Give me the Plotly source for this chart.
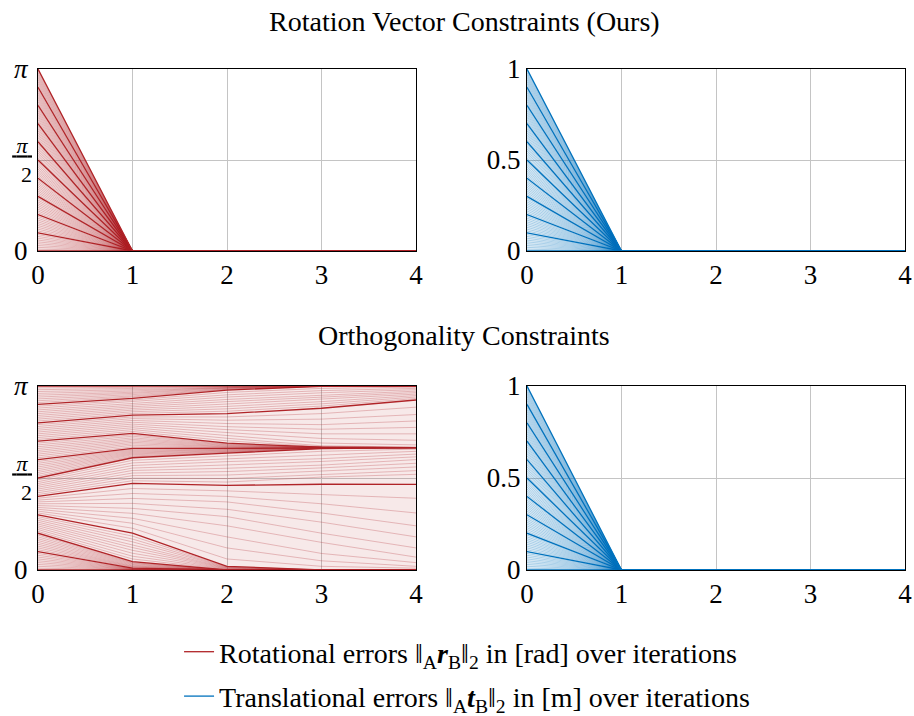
import math
import plotly.graph_objects as go

# Iteration index shared by every panel
iterations = [0, 1, 2, 3, 4]

# Initial rotation errors, in multiples of pi (one line per start value)
start_frac = [
    0.00, 0.01, 0.02, 0.03, 0.04, 0.05, 0.06, 0.07, 0.08, 0.09,
    0.10, 0.11, 0.12, 0.13, 0.14, 0.15, 0.16, 0.17, 0.18, 0.19,
    0.20, 0.21, 0.22, 0.23, 0.24, 0.25, 0.26, 0.27, 0.28, 0.29,
    0.30, 0.31, 0.32, 0.33, 0.34, 0.35, 0.36, 0.37, 0.38, 0.39,
    0.40, 0.41, 0.42, 0.43, 0.44, 0.45, 0.46, 0.47, 0.48, 0.49,
    0.50, 0.51, 0.52, 0.53, 0.54, 0.55, 0.56, 0.57, 0.58, 0.59,
    0.60, 0.61, 0.62, 0.63, 0.64, 0.65, 0.66, 0.67, 0.68, 0.69,
    0.70, 0.71, 0.72, 0.73, 0.74, 0.75, 0.76, 0.77, 0.78, 0.79,
    0.80, 0.81, 0.82, 0.83, 0.84, 0.85, 0.86, 0.87, 0.88, 0.89,
    0.90, 0.91, 0.92, 0.93, 0.94, 0.95, 0.96, 0.97, 0.98, 0.99,
    1.00,
]

# Initial translation errors in metres
trans_start = [
    0.00, 0.01, 0.02, 0.03, 0.04, 0.05, 0.06, 0.07, 0.08, 0.09,
    0.10, 0.11, 0.12, 0.13, 0.14, 0.15, 0.16, 0.17, 0.18, 0.19,
    0.20, 0.21, 0.22, 0.23, 0.24, 0.25, 0.26, 0.27, 0.28, 0.29,
    0.30, 0.31, 0.32, 0.33, 0.34, 0.35, 0.36, 0.37, 0.38, 0.39,
    0.40, 0.41, 0.42, 0.43, 0.44, 0.45, 0.46, 0.47, 0.48, 0.49,
    0.50, 0.51, 0.52, 0.53, 0.54, 0.55, 0.56, 0.57, 0.58, 0.59,
    0.60, 0.61, 0.62, 0.63, 0.64, 0.65, 0.66, 0.67, 0.68, 0.69,
    0.70, 0.71, 0.72, 0.73, 0.74, 0.75, 0.76, 0.77, 0.78, 0.79,
    0.80, 0.81, 0.82, 0.83, 0.84, 0.85, 0.86, 0.87, 0.88, 0.89,
    0.90, 0.91, 0.92, 0.93, 0.94, 0.95, 0.96, 0.97, 0.98, 0.99,
    1.00,
]

# Rotation vector constraints: every start converges after one iteration
rotvec_after = [0.0, 0.0, 0.0, 0.0]
trans_after = [0.0, 0.0, 0.0, 0.0]

# Orthogonality constraints: rotation error (multiples of pi) at iterations 1..4
ortho_it1 = [
    0.000, 0.001, 0.002, 0.003, 0.004, 0.005, 0.006, 0.007, 0.008, 0.009,
    0.010, 0.013, 0.016, 0.019, 0.022, 0.026, 0.030, 0.034, 0.038, 0.041,
    0.045, 0.060, 0.075, 0.091, 0.107, 0.122, 0.137, 0.153, 0.168, 0.184,
    0.200, 0.227, 0.254, 0.281, 0.308, 0.335, 0.362, 0.389, 0.416, 0.443,
    0.471, 0.485, 0.499, 0.513, 0.527, 0.541, 0.554, 0.568, 0.582, 0.596,
    0.610, 0.615, 0.620, 0.626, 0.631, 0.636, 0.641, 0.646, 0.651, 0.656,
    0.661, 0.669, 0.678, 0.686, 0.694, 0.702, 0.710, 0.718, 0.727, 0.735,
    0.743, 0.753, 0.763, 0.773, 0.783, 0.793, 0.803, 0.813, 0.823, 0.832,
    0.842, 0.851, 0.860, 0.869, 0.878, 0.887, 0.896, 0.905, 0.914, 0.924,
    0.933, 0.940, 0.946, 0.953, 0.960, 0.966, 0.973, 0.980, 0.987, 0.993,
    1.000,
]
ortho_it2 = [
    0.000, 0.000, 0.000, 0.000, 0.000, 0.000, 0.000, 0.000, 0.000, 0.000,
    0.000, 0.000, 0.000, 0.000, 0.000, 0.000, 0.000, 0.000, 0.000, 0.000,
    0.000, 0.002, 0.004, 0.006, 0.008, 0.010, 0.012, 0.014, 0.016, 0.018,
    0.020, 0.060, 0.120, 0.180, 0.240, 0.290, 0.330, 0.370, 0.400, 0.430,
    0.460, 0.478, 0.497, 0.516, 0.535, 0.553, 0.571, 0.589, 0.604, 0.620,
    0.635, 0.638, 0.640, 0.643, 0.645, 0.648, 0.651, 0.653, 0.656, 0.658,
    0.661, 0.664, 0.666, 0.669, 0.671, 0.674, 0.677, 0.680, 0.683, 0.686,
    0.689, 0.702, 0.716, 0.731, 0.747, 0.763, 0.779, 0.796, 0.814, 0.832,
    0.850, 0.863, 0.876, 0.889, 0.902, 0.915, 0.927, 0.940, 0.952, 0.965,
    0.978, 0.980, 0.982, 0.984, 0.987, 0.989, 0.991, 0.993, 0.996, 0.998,
    1.000,
]
ortho_it3 = [
    0.000, 0.000, 0.000, 0.000, 0.000, 0.000, 0.000, 0.000, 0.000, 0.000,
    0.000, 0.000, 0.000, 0.000, 0.000, 0.000, 0.000, 0.000, 0.000, 0.000,
    0.000, 0.000, 0.000, 0.000, 0.000, 0.000, 0.000, 0.000, 0.000, 0.000,
    0.000, 0.020, 0.050, 0.090, 0.150, 0.200, 0.260, 0.310, 0.360, 0.410,
    0.466, 0.505, 0.520, 0.540, 0.555, 0.570, 0.590, 0.605, 0.625, 0.645,
    0.660, 0.661, 0.662, 0.662, 0.663, 0.663, 0.664, 0.664, 0.664, 0.665,
    0.665, 0.665, 0.665, 0.666, 0.666, 0.666, 0.667, 0.667, 0.667, 0.668,
    0.668, 0.670, 0.675, 0.690, 0.715, 0.740, 0.765, 0.790, 0.820, 0.850,
    0.879, 0.891, 0.903, 0.915, 0.927, 0.939, 0.951, 0.963, 0.975, 0.987,
    0.998, 0.999, 0.999, 0.999, 1.000, 1.000, 1.000, 1.000, 1.000, 1.000,
    1.000,
]
ortho_it4 = [
    0.000, 0.000, 0.000, 0.000, 0.000, 0.000, 0.000, 0.000, 0.000, 0.000,
    0.000, 0.000, 0.000, 0.000, 0.000, 0.000, 0.000, 0.000, 0.000, 0.000,
    0.000, 0.000, 0.000, 0.000, 0.000, 0.000, 0.000, 0.000, 0.000, 0.000,
    0.000, 0.010, 0.020, 0.040, 0.070, 0.120, 0.180, 0.240, 0.310, 0.390,
    0.465, 0.520, 0.540, 0.560, 0.580, 0.600, 0.615, 0.630, 0.645, 0.657,
    0.665, 0.665, 0.665, 0.665, 0.665, 0.665, 0.665, 0.665, 0.665, 0.665,
    0.665, 0.665, 0.665, 0.665, 0.665, 0.665, 0.665, 0.665, 0.665, 0.665,
    0.665, 0.666, 0.668, 0.680, 0.705, 0.740, 0.775, 0.810, 0.845, 0.885,
    0.924, 0.932, 0.940, 0.948, 0.956, 0.964, 0.972, 0.980, 0.987, 0.994,
    1.000, 1.000, 1.000, 1.000, 1.000, 1.000, 1.000, 1.000, 1.000, 1.000,
    1.000,
]

# Orthogonality constraints: translation errors behave like the rotation-vector case
ortho_trans_after = [0.0, 0.0, 0.0, 0.0]

x_ticks = [0, 1, 2, 3, 4]
rot_tick_text = ["0", "", "<i>π</i>"]
half_pi_text = "<u>\u2009<i>π</i>\u2009</u><br>2"
trans_ticks = [0, 0.5, 1]
trans_tick_text = ["0", "0.5", "1"]

panel_titles = ["Rotation Vector Constraints (Ours)", "Orthogonality Constraints"]
legend_rot = "Rotational errors ‖<sub>A</sub><b><i>r</i></b><sub>B</sub>‖<sub>2</sub> in [rad] over iterations"
legend_trans = "Translational errors ‖<sub>A</sub><b><i>t</i></b><sub>B</sub>‖<sub>2</sub> in [m] over iterations"

RED = (176, 36, 40)
BLUE = (0, 114, 189)
FONT = "Liberation Serif"

PI = math.pi


def rgba(c, a):
    return f"rgba({c[0]},{c[1]},{c[2]},{a})"


def rgb_str(c):
    return f"rgb({c[0]},{c[1]},{c[2]})"


def add_bundle(fig, lines, color, xa, ya, legend_name=None, group=None):
    """One trace per start value; every tenth line is emphasised."""
    for i, ys in enumerate(lines):
        dark = i % 10 == 0
        fig.add_trace(go.Scatter(
            x=iterations, y=ys, mode="lines", xaxis=xa, yaxis=ya,
            line=dict(color=rgb_str(color) if dark else rgba(color, 0.38),
                      width=1.3 if dark else 0.7),
            fill="none" if i == 0 else "tonexty",
            fillcolor=rgba(color, 0.10),
            name=legend_name if legend_name else "",
            legendgroup=group,
            showlegend=bool(legend_name) and i == 0,
            hoverinfo="skip",
        ))


rot_ours = [[v * PI] + [a * PI for a in rotvec_after] for v in start_frac]
trans_ours = [[v] + list(trans_after) for v in trans_start]
rot_ortho = [
    [start_frac[i] * PI, ortho_it1[i] * PI, ortho_it2[i] * PI, ortho_it3[i] * PI, ortho_it4[i] * PI]
    for i in range(len(start_frac))
]
trans_ortho = [[v] + list(ortho_trans_after) for v in trans_start]

fig = go.Figure()
add_bundle(fig, rot_ours, RED, "x", "y", legend_rot, "rot")
add_bundle(fig, trans_ours, BLUE, "x2", "y2", legend_trans, "trans")
add_bundle(fig, rot_ortho, RED, "x3", "y3")
add_bundle(fig, trans_ortho, BLUE, "x4", "y4")

# Empty traces that bind the fraction-label axes to the rotation panels
fig.add_trace(go.Scatter(x=[], y=[], xaxis="x", yaxis="y5", showlegend=False, hoverinfo="skip"))
fig.add_trace(go.Scatter(x=[], y=[], xaxis="x3", yaxis="y6", showlegend=False, hoverinfo="skip"))

W, H = 914, 716
left_dom = [38 / W, 416 / W]
right_dom = [527 / W, 905 / W]
top_dom = [1 - 251 / H, 1 - 69 / H]
bot_dom = [1 - 570 / H, 1 - 386 / H]

axis_common = dict(
    showgrid=True, gridcolor="#c4c4c4", gridwidth=1,
    showline=True, mirror=True, linecolor="black", linewidth=1,
    zeroline=False, ticks="", layer="below traces", fixedrange=True,
    tickfont=dict(family=FONT, size=27, color="black"),
)
xax = dict(axis_common, range=[0, 4], tickmode="array", tickvals=x_ticks,
           ticktext=[str(t) for t in x_ticks])
yrot = dict(axis_common, range=[0, PI], tickmode="array",
            tickvals=[0, PI / 2, PI], ticktext=rot_tick_text, ticklabelstandoff=4)
ytrans = dict(axis_common, range=[0, 1], tickmode="array",
              tickvals=trans_ticks, ticktext=trans_tick_text, ticklabelstandoff=0)
yfrac = dict(range=[0, PI], tickmode="array", tickvals=[PI / 2], ticktext=[half_pi_text],
             showgrid=False, showline=False, zeroline=False, ticks="", fixedrange=True,
             side="left", ticklabelstandoff=5,
             tickfont=dict(family=FONT, size=22, color="black"))

fig.update_layout(
    width=W, height=H,
    margin=dict(l=0, r=0, t=0, b=0, autoexpand=False),
    paper_bgcolor="white", plot_bgcolor="white",
    font=dict(family=FONT, size=27, color="black"),
    xaxis=dict(xax, domain=left_dom, anchor="y"),
    yaxis=dict(yrot, domain=top_dom, anchor="x"),
    xaxis2=dict(xax, domain=right_dom, anchor="y2"),
    yaxis2=dict(ytrans, domain=top_dom, anchor="x2"),
    xaxis3=dict(xax, domain=left_dom, anchor="y3"),
    yaxis3=dict(yrot, domain=bot_dom, anchor="x3"),
    xaxis4=dict(xax, domain=right_dom, anchor="y4"),
    yaxis4=dict(ytrans, domain=bot_dom, anchor="x4"),
    yaxis5=dict(yfrac, overlaying="y", anchor="x"),
    yaxis6=dict(yfrac, overlaying="y3", anchor="x3"),
    legend=dict(
        x=0.511, xanchor="center", y=1 - 627 / H, yanchor="top",
        bgcolor="rgba(0,0,0,0)", font=dict(family=FONT, size=28),
        tracegroupgap=5, traceorder="grouped",
    ),
    annotations=[
        dict(text=panel_titles[0], xref="paper", yref="paper", x=0.508, y=1 - 21 / H,
             showarrow=False, font=dict(family=FONT, size=28), yanchor="middle"),
        dict(text=panel_titles[1], xref="paper", yref="paper", x=0.508, y=1 - 336 / H,
             showarrow=False, font=dict(family=FONT, size=28), yanchor="middle"),
    ],
)

fig.write_html("out.html")
